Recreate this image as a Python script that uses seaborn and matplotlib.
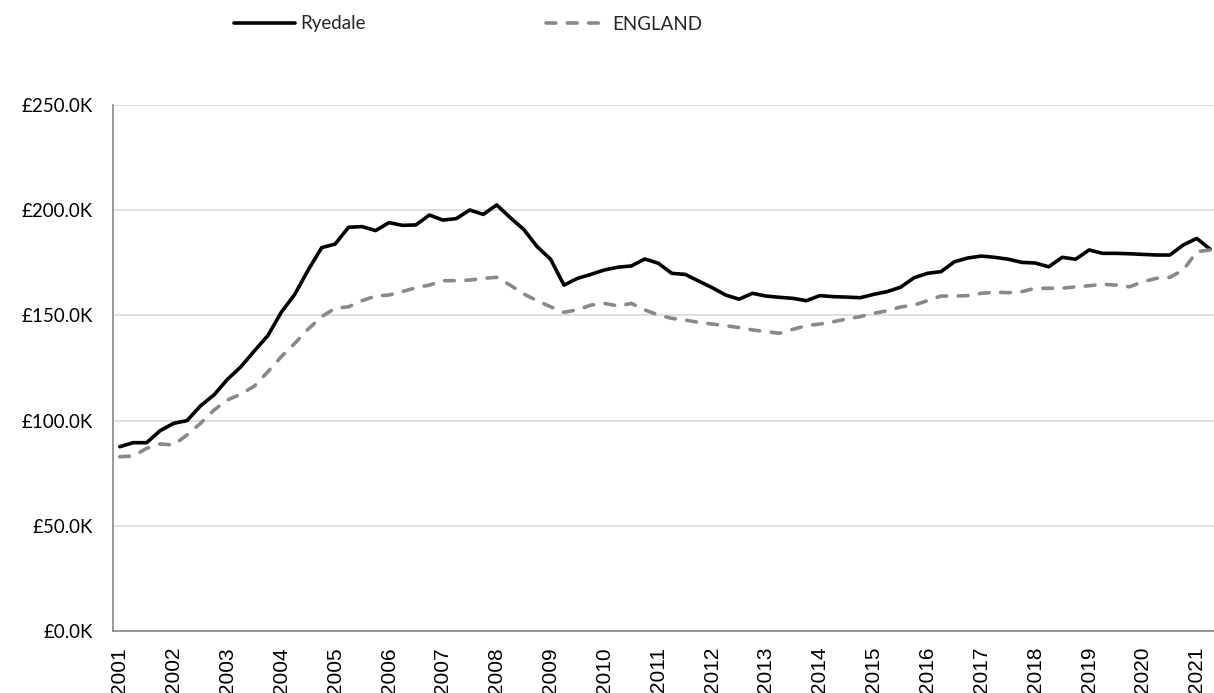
import numpy as np
import pandas as pd
import matplotlib
matplotlib.use("Agg")
import matplotlib.pyplot as plt
import seaborn as sns
from matplotlib.ticker import FuncFormatter, FixedLocator, NullFormatter

# Quarterly average house prices (thousands of pounds), 2001 Q1 - 2021 Q2
years = list(range(2001, 2022))
quarter_labels = [f"{y} Q{q}" for y in years for q in range(1, 5)][:82]

ryedale = [
    87.6, 89.5, 89.5, 95.2, 98.7, 100.0, 107.0, 112.2, 119.6, 125.6,
    133.1, 140.4, 151.5, 160.0, 171.6, 182.2, 183.9, 191.9, 192.2, 190.3,
    194.1, 192.8, 193.0, 197.7, 195.3, 196.0, 200.1, 198.0, 202.5, 196.5,
    190.9, 182.7, 176.7, 164.4, 167.6, 169.5, 171.6, 172.9, 173.5, 176.8,
    174.8, 170.0, 169.5, 166.3, 163.2, 159.7, 157.7, 160.5, 159.2, 158.6,
    158.1, 157.0, 159.4, 158.9, 158.7, 158.4, 160.0, 161.3, 163.4, 167.9,
    170.0, 170.8, 175.5, 177.3, 178.2, 177.6, 176.7, 175.2, 174.9, 173.1,
    177.6, 176.7, 181.1, 179.5, 179.5, 179.3, 179.0, 178.7, 178.7, 183.5,
    186.6, 181.4,
]

england = [
    82.8, 83.2, 86.8, 88.9, 88.4, 93.2, 98.7, 105.0, 109.8, 112.6,
    116.4, 123.2, 130.4, 136.7, 143.5, 149.4, 153.4, 154.1, 157.0, 159.2,
    159.7, 161.3, 163.2, 164.4, 166.5, 166.5, 166.8, 167.6, 168.1, 164.4,
    160.2, 157.0, 154.1, 151.5, 152.6, 154.9, 155.7, 154.5, 155.7, 152.6,
    150.2, 148.6, 147.8, 146.7, 145.9, 145.1, 144.2, 143.1, 142.3, 141.5,
    143.4, 145.1, 145.9, 147.0, 148.3, 149.4, 151.0, 152.2, 154.0, 154.9,
    157.0, 159.2, 159.2, 159.4, 160.5, 161.0, 160.8, 161.3, 162.9, 162.9,
    162.9, 163.6, 164.1, 164.8, 164.4, 163.6, 166.0, 167.6, 168.1, 171.6,
    180.3, 181.1,
]

series_names = ["Ryedale", "ENGLAND"]
y_ticks = [0, 50, 100, 150, 200, 250]

n = len(quarter_labels)
df = pd.DataFrame({
    "idx": list(range(n)) * 2,
    "quarter": quarter_labels * 2,
    "price": ryedale + england,
    "area": [series_names[0]] * n + [series_names[1]] * n,
})

sns.set_theme(style="white")
plt.rcParams["font.family"] = ["Lato", "DejaVu Sans"]

W, H = 1214, 693
fig = plt.figure(figsize=(W / 100, H / 100), dpi=100)
ax = fig.add_axes([113 / W, 62 / H, 1104 / W, 526 / H])

sns.lineplot(
    data=df, x="idx", y="price", hue="area", style="area",
    hue_order=series_names, style_order=series_names,
    palette={"Ryedale": "#000000", "ENGLAND": "#898989"},
    dashes={"Ryedale": "", "ENGLAND": (2.7, 3.2)},
    linewidth=2.6, ax=ax, legend=True,
)
for line in ax.lines:
    line.set_dash_capstyle("round")
    line.set_solid_joinstyle("round")

ax.set_xlim(-0.5, n - 0.5)
ax.set_ylim(0, 250)
ax.set_xlabel("")
ax.set_ylabel("")

# y axis
ax.yaxis.set_major_locator(FixedLocator(y_ticks))
ax.yaxis.set_major_formatter(FuncFormatter(lambda v, p: f"£{v:.1f}K"))
ax.grid(axis="y", color="#d9d9d9", linewidth=1.2)
ax.grid(axis="x", visible=False)
ax.set_axisbelow(True)
ax.tick_params(axis="y", which="major", direction="out", length=5.5, width=1.2,
               color="#868686", pad=9, labelsize=13.5, labelcolor="#000000")

# x axis: tick marks at quarter boundaries, year labels centred on Q1
ax.xaxis.set_major_locator(FixedLocator(np.arange(-0.5, n, 1.0)))
ax.xaxis.set_major_formatter(NullFormatter())
year_pos = [i for i in range(0, n, 4)]
ax.xaxis.set_minor_locator(FixedLocator(year_pos))
ax.xaxis.set_minor_formatter(FuncFormatter(lambda v, p: str(years[int(v) // 4])))
ax.tick_params(axis="x", which="major", direction="out", length=4, width=1.2,
               color="#868686")
ax.tick_params(axis="x", which="minor", length=0, pad=11.5, labelsize=15,
               labelrotation=90, labelfontfamily="Liberation Sans",
               labelcolor="#000000")

for side in ["top", "right"]:
    ax.spines[side].set_visible(False)
for side in ["left", "bottom"]:
    ax.spines[side].set_color("#868686")
    ax.spines[side].set_linewidth(1.2)

handles, labels = ax.get_legend_handles_labels()
ax.get_legend().remove()
fig.legend(
    handles, labels, loc="center", bbox_to_anchor=(468 / W, 1 - 24 / H),
    ncol=2, frameon=False, fontsize=13.5, handlelength=3.25,
    handletextpad=0.3, columnspacing=9.6,
)

fig.savefig("out.png", dpi=100)
